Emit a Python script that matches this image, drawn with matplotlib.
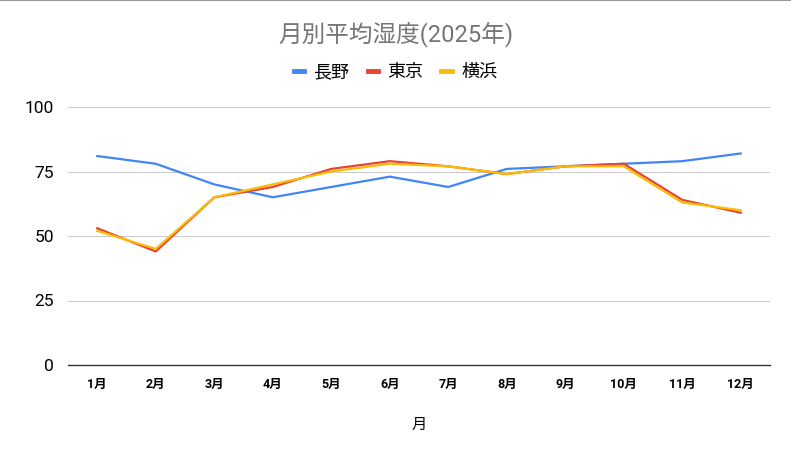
import numpy as np
import matplotlib
matplotlib.use('Agg')
import matplotlib.pyplot as plt
from matplotlib.lines import Line2D

plt.rcParams['font.family'] = ['Roboto', 'Noto Sans CJK JP', 'DejaVu Sans']

months = ['1月', '2月', '3月', '4月', '5月', '6月', '7月', '8月', '9月', '10月', '11月', '12月']
nagano = [81, 78, 70, 65, 69, 73, 69, 76, 77, 78, 79, 82]
tokyo = [53, 44, 65, 69, 76, 79, 77, 74, 77, 78, 64, 59]
yokohama = [52, 45, 65, 70, 75, 78, 77, 74, 77, 77, 63, 60]
series_names = ['長野', '東京', '横浜']
colors = ['#4285f4', '#ea4335', '#fbbc04']

fig = plt.figure(figsize=(7.91, 4.49), dpi=100)
ax = fig.add_axes([68 / 791, 1 - 365 / 449, 702 / 791, 258 / 449])

x = np.arange(1, len(months) + 1)
for vals, name, c in zip([nagano, tokyo, yokohama], series_names, colors):
    ax.plot(x, vals, color=c, lw=1.6, label=name)

ax.set_xlim(0.5, 12.5)
ax.set_ylim(0, 100)
ax.set_yticks([0, 25, 50, 75, 100])
ax.set_xticks(x)
ax.set_xticklabels(months, fontsize=9, fontweight='bold')
ax.tick_params(axis='y', labelsize=12.5, length=0, pad=10)
ax.tick_params(axis='x', length=0, pad=9)
ax.grid(axis='y', color='#cccccc', lw=0.8)
ax.set_axisbelow(True)
for s in ['top', 'right', 'left']:
    ax.spines[s].set_visible(False)
ax.spines['bottom'].set_color('#333333')
ax.spines['bottom'].set_linewidth(1)
ax.set_xlabel('月', fontsize=11, labelpad=20)

fig.text(0.5, 1 - 35 / 449, '月別平均湿度(2025年)', ha='center', va='center',
         fontsize=17, color='#757575')

handles = [Line2D([0], [0], color=c, lw=3.5) for c in colors]
fig.legend(handles, series_names, loc='center', bbox_to_anchor=(0.5, 1 - 72 / 449),
           ncol=3, frameon=False, fontsize=13, handlelength=0.6,
           columnspacing=1.0, handletextpad=0.5)

# top border line
fig.add_artist(Line2D([0, 1], [0.999, 0.999], color='#999999', lw=1.5, transform=fig.transFigure))

fig.savefig('out.png', dpi=100)
